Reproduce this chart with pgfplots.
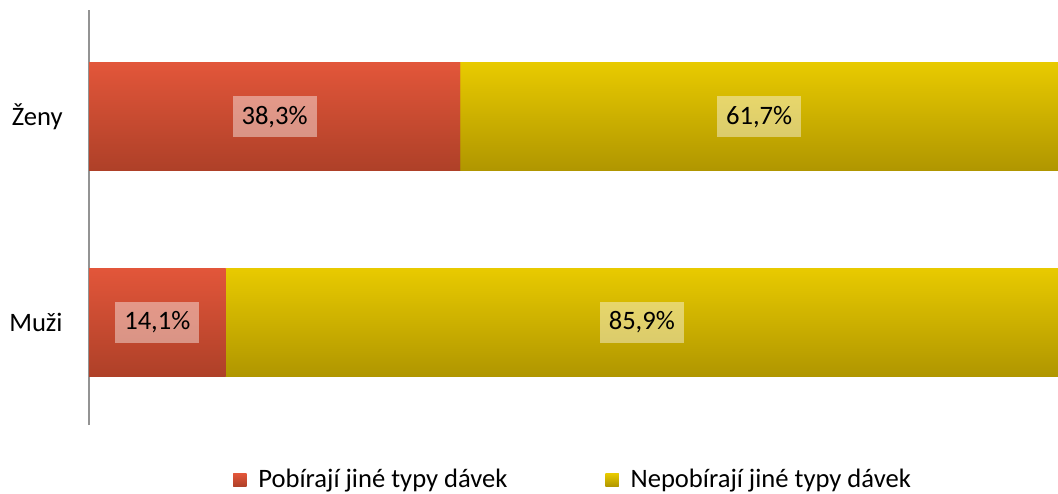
\documentclass[border=0pt]{standalone}
\usepackage{pgfplots}
\pgfplotsset{compat=1.18}
\usepackage{fontspec}
\setmainfont{Carlito}
\definecolor{redT}{RGB}{226,86,58}
\definecolor{redB}{RGB}{174,64,40}
\definecolor{yelT}{RGB}{232,202,0}
\definecolor{yelB}{RGB}{176,150,0}
\pgfplotsset{
  base/.style={at={(44.5pt,34pt)}, anchor=south west,
    scale only axis, width=484.5pt, height=207.5pt,
    xbar stacked, bar width=54pt,
    xmin=0, xmax=100, ymin=-0.5, ymax=1.52},
  redbar/.style={draw=none, top color=redT, bottom color=redB,
    preaction={fill=black!12, yshift=-2.5pt}},
  yelbar/.style={draw=none, top color=yelT, bottom color=yelB,
    preaction={fill=black!12, yshift=-2.5pt}},
}
\begin{document}
\begin{tikzpicture}[x=1pt,y=1pt]
\tikzset{lbl/.style={fill=white, fill opacity=0.42, text opacity=1, inner xsep=4.5pt, inner ysep=0pt,
    minimum height=20.5pt, font=\fontsize{13.3}{15}\selectfont}}
\path[use as bounding box] (0,0) rectangle (529,246.5);
\begin{axis}[base,
  axis x line=none, axis y line*=left,
  y axis line style={draw=gray!85, line width=0.8pt},
  ytick={0,1}, yticklabels={Muži,Ženy},
  major tick length=0pt, ytick style={draw=none},
  yticklabel style={font=\fontsize{13.3}{15}\selectfont, inner xsep=0pt, xshift=-13pt},
  legend columns=2,
  legend style={draw=none, fill=none, inner sep=0pt, at={(0.1486,-0.1325)}, anchor=west,
    font=\fontsize{13.3}{15}\selectfont,
    nodes={inner xsep=0pt},
    /tikz/every odd column/.append style={column sep=6pt},
    /tikz/every even column/.append style={column sep=49pt}},
  legend image code/.code={\shade[#1, draw=none] (0pt,-3.25pt) rectangle (6.5pt,3.25pt);},
]
\addplot[redbar] coordinates {(14.1,0)};
\addplot[yelbar] coordinates {(85.9,0)};
\legend{Pobírají jiné typy dávek, Nepobírají jiné typy dávek}
\end{axis}
\begin{axis}[base, hide axis]
\addplot[redbar] coordinates {(38.3,1)};
\addplot[yelbar] coordinates {(61.7,1)};
\end{axis}
\begin{axis}[base, hide axis]
\node[lbl] at (axis cs:7.05,0) {14,1\%};
\node[lbl] at (axis cs:57.05,0) {85,9\%};
\node[lbl] at (axis cs:19.15,1) {38,3\%};
\node[lbl] at (axis cs:69.15,1) {61,7\%};
\end{axis}
\end{tikzpicture}
\end{document}
